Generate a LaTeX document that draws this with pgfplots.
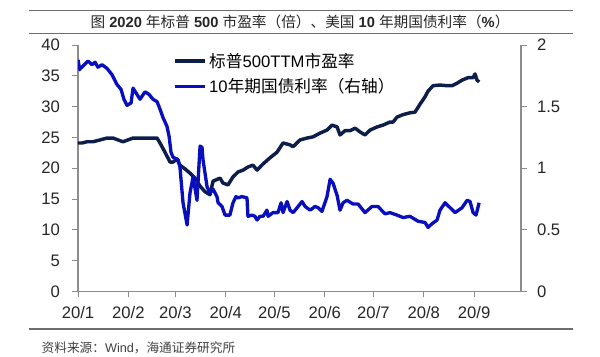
\documentclass[border=0pt]{standalone}
\usepackage{pgfplots}
\pgfplotsset{compat=1.18}
\usepackage{pgfplotstable}
\usepackage{fontspec}
\setmainfont{Liberation Sans}
\newfontfamily\cjk{Noto Sans CJK SC}
\definecolor{pecol}{RGB}{14,30,75}
\definecolor{ycol}{RGB}{10,15,190}
\definecolor{axgray}{RGB}{140,140,140}
\definecolor{rulegray}{RGB}{110,110,110}

% S&P 500 TTM P/E (left axis); d = days since 2020-01-01
\pgfplotstableread{
d pe
0 24.1
2.5 24.1
5.5 24.3
9.2 24.3
13.6 24.6
17.9 24.9
21.6 24.9
24.6 24.6
27.7 24.3
30.8 24.6
33.9 24.9
38.2 24.9
42.5 24.9
48.7 24.9
50.5 24.1
53.6 22.6
56.7 21.0
58.5 21.0
61.0 21.5
62.8 20.5
65.9 19.9
69.0 19.2
72.1 18.4
75.2 17.1
78.2 16.2
81.3 15.7
83.2 17.9
87.5 18.4
89.3 17.6
92.4 17.3
95.5 18.6
98.6 19.4
101.7 19.7
104.7 20.2
107.8 20.5
110.3 19.7
114.0 20.7
118.3 21.7
122.6 22.6
126.3 24.1
130.6 23.8
132.5 23.5
136.8 24.6
141.1 24.9
144.8 25.1
149.1 25.7
153.4 26.2
156.5 27.0
159.6 26.7
161.4 25.4
164.5 26.1
167.6 26.1
170.7 26.5
173.7 25.9
176.8 25.4
179.9 26.2
184.2 26.7
187.9 27.0
192.2 27.5
194.1 27.5
196.5 28.3
200.2 28.7
204.5 29.0
207.6 29.1
210.7 30.4
213.8 31.6
215.6 32.5
218.7 33.4
223.0 33.5
227.3 33.4
230.4 33.4
233.5 33.8
236.6 34.3
240.3 34.7
243.4 34.7
244.6 35.3
245.8 34.3
247.1 34.0
}\pedata

% US 10Y Treasury yield (right axis)
\pgfplotstableread{
d y
0 1.88
1 1.80
1.5 1.81
3.1 1.83
6.2 1.87
8.6 1.84
10.5 1.86
12.3 1.82
14.8 1.84
17.9 1.81
20.9 1.76
24.0 1.68
26.5 1.64
28.3 1.56
30.2 1.51
32.7 1.53
33.9 1.65
36.3 1.60
38.2 1.56
41.3 1.62
43.7 1.60
46.2 1.56
48.7 1.54
50.5 1.48
52.4 1.41
54.8 1.34
56.1 1.26
57.3 1.13
58.5 1.09
61.6 1.07
62.8 1.01
64.7 0.72
67.2 0.54
69.0 0.80
70.9 0.93
73.3 0.74
75.2 1.18
76.4 1.17
77.0 1.07
79.5 0.85
81.3 0.80
83.2 0.83
85.6 0.77
86.3 0.72
88.7 0.69
90.6 0.62
93.6 0.62
95.5 0.72
97.3 0.77
98.6 0.76
101.0 0.77
104.1 0.76
104.7 0.61
107.2 0.62
109.0 0.61
110.3 0.58
112.1 0.61
114.0 0.61
116.4 0.66
117.1 0.61
120.1 0.64
123.2 0.64
125.1 0.72
126.3 0.64
128.8 0.73
130.6 0.66
132.5 0.64
135.0 0.68
138.0 0.73
139.9 0.69
143.0 0.66
146.0 0.69
147.9 0.68
150.3 0.65
153.4 0.77
155.3 0.91
157.1 0.88
159.6 0.78
161.4 0.66
163.3 0.72
165.7 0.74
169.4 0.71
172.5 0.71
176.8 0.64
181.1 0.69
184.8 0.69
189.1 0.63
192.2 0.64
196.5 0.62
200.2 0.60
204.5 0.61
209.5 0.57
213.8 0.56
215.6 0.52
218.1 0.55
221.2 0.58
223.0 0.66
226.1 0.72
229.2 0.68
232.3 0.64
236.6 0.68
239.7 0.74
241.5 0.73
243.4 0.64
245.2 0.62
247.1 0.72
}\ydata

\pgfplotsset{
  common/.style={
    at={(58.5pt,49.125pt)}, anchor=south west,
    scale only axis, width=332.25pt, height=184.875pt,
    xmin=0, xmax=272.9,
    tick align=outside, major tick length=4.5pt,
    tick style={axgray, line width=0.7pt},
    axis line style={-, axgray, line width=0.9pt},
    tick label style={font=\fontsize{12.5}{14}\selectfont, text=black!85},
    /pgf/number format/assume math mode=true,
  }
}

\begin{document}
\begin{tikzpicture}
\useasboundingbox (0,0) rectangle (450pt,267.75pt);
\draw[rulegray, line width=0.8pt] (21.75pt,259.9pt) -- (429.75pt,259.9pt);
\draw[rulegray, line width=0.8pt] (21.75pt,242.5pt) -- (429.75pt,242.5pt);
\node[font=\fontsize{11}{13}\selectfont, text=black!85] at (225pt,251.5pt)
  {{\cjk 图}\ \textbf{2020}\ {\cjk 年标普}\ \textbf{500}\ {\cjk 市盈率（倍）、美国}\ \textbf{10}\ {\cjk 年期国债利率（}\textbf{\%}{\cjk ）}};
\draw[rulegray, line width=0.8pt] (21.75pt,21pt) -- (429.75pt,21pt);
\node[anchor=west, font=\fontsize{9.5}{11}\selectfont, text=black!75] at (27.75pt,6.75pt)
  {{\cjk 资料来源：}Wind{\cjk ，海通证券研究所}};

\begin{axis}[common,
  axis x line*=bottom, axis y line*=left,
  ymin=0, ymax=40, ytick={0,5,...,40},
  yticklabel style={xshift=-5.5pt},
  xtick={0,31,60,91,121,152,182,213,244},
  xticklabels={20/1,20/2,20/3,20/4,20/5,20/6,20/7,20/8,20/9},
  xticklabel style={yshift=-3pt},
]
\addplot[pecol, line width=2.6pt, line join=round] table[x=d,y=pe] {\pedata};
\end{axis}

\begin{axis}[common,
  axis x line=none, axis y line*=right,
  ymin=0, ymax=2, ytick={0,0.5,1,1.5,2},
  yticklabel style={/pgf/number format/fixed, xshift=4pt},
  legend style={at={(0.205,0.99)}, anchor=north west, draw=none, fill=none,
    font=\fontsize{12.5}{15}\selectfont, row sep=3pt,
    /tikz/every even column/.append style={column sep=2pt}},
  legend cell align=left,
  legend image code/.code={\draw[#1] (0pt,0pt) -- (22.5pt,0pt);},
]
\addlegendimage{pecol, line width=2.6pt}
\addlegendentry{{\cjk 标普}500TTM{\cjk 市盈率}}
\addplot[ycol, line width=2.5pt, line join=round] table[x=d,y=y] {\ydata};
\addlegendentry{10{\cjk 年期国债利率（右轴）}}
\end{axis}
\end{tikzpicture}
\end{document}
